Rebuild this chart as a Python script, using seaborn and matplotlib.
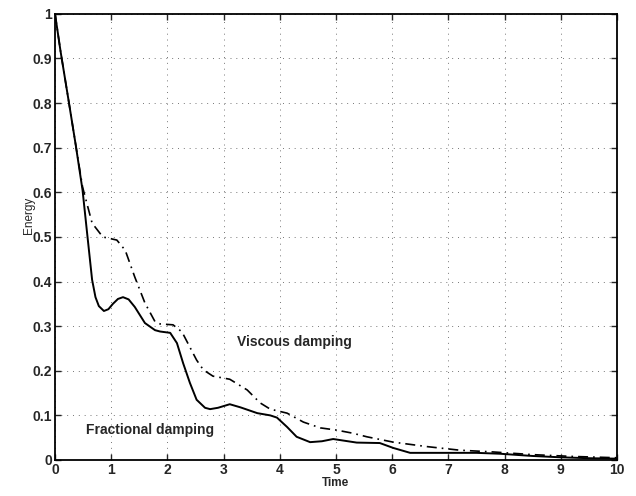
import matplotlib
matplotlib.use("Agg")
import matplotlib.pyplot as plt
import seaborn as sns
import numpy as np
import pandas as pd

# fractional damping (solid)
t_frac = [0.0, 0.1, 0.24, 0.37, 0.49, 0.57, 0.66, 0.72, 0.78, 0.87, 0.95, 1.03, 1.12, 1.21, 1.31, 1.42,
          1.6, 1.78, 1.87, 2.05, 2.17, 2.28, 2.4, 2.52, 2.67, 2.76, 2.9, 3.11, 3.3, 3.6, 3.83, 3.95, 4.13,
          4.3, 4.54, 4.75, 4.95, 5.37, 5.78, 6.02, 6.32, 6.9, 7.5, 7.92, 8.5, 9.0, 9.5, 10.0]
e_frac = [1.0, 0.915, 0.807, 0.705, 0.605, 0.51, 0.404, 0.365, 0.345, 0.334, 0.338, 0.35, 0.361, 0.365,
          0.36, 0.343, 0.307, 0.291, 0.288, 0.285, 0.262, 0.217, 0.173, 0.135, 0.117, 0.114, 0.117, 0.125,
          0.118, 0.105, 0.1, 0.095, 0.074, 0.052, 0.04, 0.042, 0.047, 0.039, 0.038, 0.027, 0.016, 0.016,
          0.016, 0.014, 0.009, 0.006, 0.004, 0.003]

# viscous damping (dash-dot)
t_visc = [0.0, 0.1, 0.24, 0.37, 0.49, 0.66, 0.85, 1.1, 1.25, 1.42, 1.6, 1.78, 1.87, 2.1, 2.26, 2.4,
          2.52, 2.64, 2.81, 3.11, 3.42, 3.65, 3.83, 4.13, 4.42, 4.72, 5.01, 5.3, 5.55, 6.02, 6.62, 7.2,
          7.8, 8.5, 9.2, 10.0]
e_visc = [1.0, 0.915, 0.807, 0.705, 0.612, 0.531, 0.5, 0.493, 0.47, 0.41, 0.352, 0.31, 0.305, 0.303,
          0.287, 0.253, 0.224, 0.202, 0.188, 0.181, 0.157, 0.128, 0.114, 0.105, 0.085, 0.072, 0.067, 0.06,
          0.052, 0.04, 0.03, 0.022, 0.018, 0.012, 0.008, 0.005]

x_ticks = list(range(0, 11))
y_ticks = [0, 0.1, 0.2, 0.3, 0.4, 0.5, 0.6, 0.7, 0.8, 0.9, 1]
y_tick_labels = ["0", "0.1", "0.2", "0.3", "0.4", "0.5", "0.6", "0.7", "0.8", "0.9", "1"]

df_frac = pd.DataFrame({"Time": t_frac, "Energy": e_frac})
df_visc = pd.DataFrame({"Time": t_visc, "Energy": e_visc})

sns.set_theme(style="ticks")
plt.rcParams["font.family"] = ["Liberation Sans", "DejaVu Sans"]
plt.rcParams["xtick.direction"] = "in"
plt.rcParams["ytick.direction"] = "in"

fig = plt.figure(figsize=(6.36, 4.96), dpi=100)
ax = fig.add_axes([0.0865, 0.0726, 0.8835, 0.8994])

sns.lineplot(data=df_frac, x="Time", y="Energy", color="black", linewidth=1.4, ax=ax)
sns.lineplot(data=df_visc, x="Time", y="Energy", color="black", linewidth=1.2,
             linestyle=(0, (6, 3, 1, 3)), ax=ax)

ax.set_xlim(0, 10)
ax.set_ylim(0, 1)
ax.set_xticks(x_ticks)
ax.set_yticks(y_ticks)
ax.set_yticklabels(y_tick_labels)
ax.tick_params(axis="both", labelsize=10, length=4, width=1, top=True, right=True, pad=2)
for lab in ax.get_xticklabels() + ax.get_yticklabels():
    lab.set_fontweight("bold")
ax.grid(True, linestyle=(0, (1, 5)), color="#777777", linewidth=0.7)
for side in ax.spines.values():
    side.set_visible(True)
    side.set_color("black")
    side.set_linewidth(1.3)

ax.set_xlabel("Time", fontsize=8.5, fontweight="bold", labelpad=0)
ax.set_ylabel("Energy", fontsize=8.5)
ax.yaxis.set_label_coords(-0.036, 0.549)

ax.text(3.24, 0.265, "Viscous damping", fontsize=10, fontweight="bold", va="center", ha="left")
ax.text(0.55, 0.068, "Fractional damping", fontsize=10, fontweight="bold", va="center", ha="left")

fig.savefig("out.png", dpi=100)
